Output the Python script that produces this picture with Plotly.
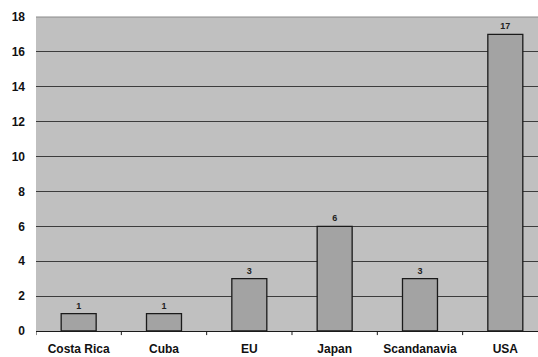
import plotly.graph_objects as go

regions = ["Costa Rica", "Cuba", "EU", "Japan", "Scandanavia", "USA"]
counts = [1, 1, 3, 6, 3, 17]
y_ticks = [0, 2, 4, 6, 8, 10, 12, 14, 16, 18]

FONT = "Liberation Sans, Arial, sans-serif"

fig = go.Figure(
    go.Bar(
        x=list(range(len(regions))),
        y=counts,
        width=0.41,
        marker=dict(color="#A3A3A3", line=dict(color="#1a1a1a", width=1.3)),
        text=[str(c) for c in counts],
        textposition="outside",
        cliponaxis=False,
        textfont=dict(family=FONT, size=9, color="#222222", weight="bold"),
    )
)

fig.update_layout(
    width=538,
    height=357,
    margin=dict(l=36, r=0, t=17, b=26),
    paper_bgcolor="white",
    plot_bgcolor="#C0C0C0",
    showlegend=False,
)

fig.update_xaxes(
    tickmode="array",
    tickvals=list(range(len(regions))),
    ticktext=regions,
    range=[-0.5, 5.383],
    showgrid=False,
    showline=True,
    linecolor="#1a1a1a",
    linewidth=1,
    ticks="",
    ticklabelstandoff=7,
    automargin=False,
    tickfont=dict(family=FONT, size=12, color="#111111", weight="bold"),
    fixedrange=True,
)

# divider ticks between categories on the bottom axis
for i in range(len(regions)):
    fig.add_shape(
        type="line", xref="x", yref="paper",
        x0=i - 0.5, x1=i - 0.5, y0=0, y1=-0.013,
        line=dict(color="#1a1a1a", width=1),
    )

fig.update_yaxes(
    range=[0, 18],
    tickmode="array",
    tickvals=y_ticks,
    showgrid=True,
    gridcolor="#3c3c3c",
    gridwidth=1,
    zeroline=False,
    showline=False,
    ticks="",
    ticklabelstandoff=10,
    automargin=False,
    tickfont=dict(family=FONT, size=12, color="#111111", weight="bold"),
    fixedrange=True,
)

# light border line along the top of the plot area
fig.add_shape(
    type="line", xref="paper", yref="paper",
    x0=0, x1=1, y0=1, y1=1,
    line=dict(color="#8a8a8a", width=1),
)

fig.write_html("out.html")
